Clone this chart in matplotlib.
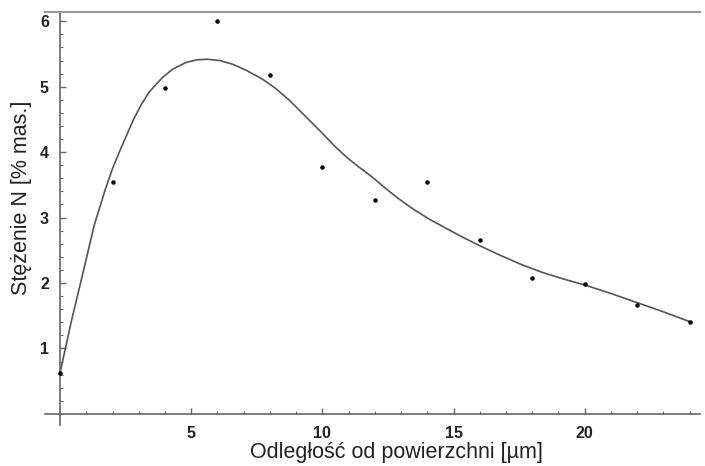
import matplotlib.pyplot as plt
from matplotlib.ticker import MultipleLocator

plt.rcParams['font.family'] = ['Liberation Sans', 'DejaVu Sans']

# measured points
depth = [0, 2, 4, 6, 8, 10, 12, 14, 16, 18, 20, 22, 24]
conc = [0.63, 3.55, 4.98, 6.0, 5.18, 3.78, 3.27, 3.55, 2.65, 2.07, 1.98, 1.66, 1.41]

# fitted curve
fit_x = [0, 0.45, 0.9, 1.3, 1.7, 2.0, 2.3, 2.8, 3.1, 3.4, 3.9, 4.3, 4.8, 5.2, 5.6, 6.1, 6.6,
         7.1, 7.7, 8.2, 8.75, 9.3, 9.9, 10.4, 10.9, 11.4, 11.9, 12.4, 12.9, 13.5,
         14.1, 14.7, 15.3, 16.0, 16.8, 17.6, 18.4, 19.2, 20.0, 21.0, 22.0, 23.0, 24.0]
fit_y = [0.63, 1.45, 2.20, 2.88, 3.40, 3.75, 4.04, 4.50, 4.73, 4.92, 5.14, 5.27, 5.37, 5.41, 5.42,
         5.40, 5.34, 5.25, 5.12, 4.98, 4.79, 4.57, 4.33, 4.12, 3.93, 3.77, 3.62, 3.45,
         3.29, 3.12, 2.97, 2.84, 2.71, 2.57, 2.42, 2.28, 2.16, 2.06, 1.97, 1.84, 1.70,
         1.56, 1.41]

fig = plt.figure(figsize=(7.05, 4.66), dpi=100)
ax = fig.add_axes([0.064, 0.088, 0.929, 0.886])

ax.plot(fit_x, fit_y, color='#555555', lw=1.2, zorder=2)
ax.scatter(depth, conc, s=5, color='black', zorder=3)

ax.set_xlim(-0.57, 24.4)
ax.set_ylim(-0.17, 6.14)

ax.spines['left'].set_position(('data', 0))
ax.spines['bottom'].set_position(('data', 0))
ax.spines['right'].set_visible(False)
ax.spines['top'].set_color('#999999')
ax.spines['top'].set_linewidth(1.5)
for s in ['left', 'bottom']:
    ax.spines[s].set_color('#666666')
    ax.spines[s].set_linewidth(1.2)

ax.set_xticks([5, 10, 15, 20])
ax.set_yticks([1, 2, 3, 4, 5, 6])
ax.xaxis.set_minor_locator(MultipleLocator(1))
ax.yaxis.set_minor_locator(MultipleLocator(0.2))
ax.tick_params(which='both', direction='in', color='#666666', labelsize=11.5)
ax.tick_params(which='major', length=4, width=1)
ax.tick_params(which='minor', length=2.5, width=0.8)
ax.tick_params(axis='y', pad=8)
ax.tick_params(axis='x', pad=9)
for lab in ax.get_xticklabels() + ax.get_yticklabels():
    lab.set_fontweight('bold')
    lab.set_color('#222222')

ax.set_xlabel('Odległość od powierzchni [µm]', fontsize=15.5, color='#222222')
ax.set_ylabel('Stężenie N [% mas.]', fontsize=15.5, color='#222222')
ax.yaxis.set_label_coords(-0.02, 0.55)
ax.xaxis.set_label_coords(0.537, -0.04)

fig.savefig('out.png', dpi=100)
